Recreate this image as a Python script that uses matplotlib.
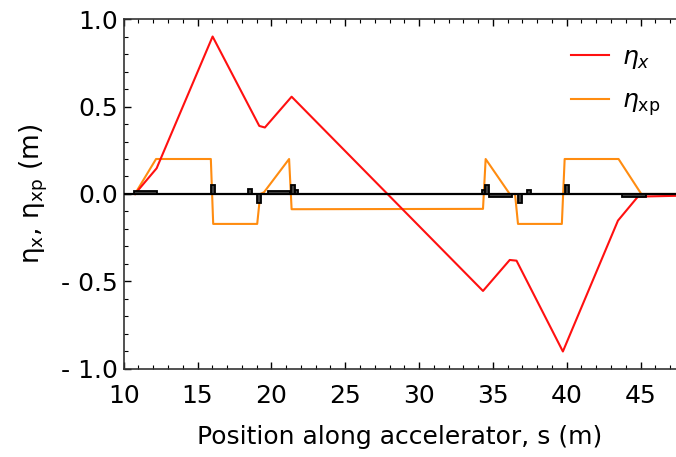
import matplotlib
matplotlib.use("Agg")
import matplotlib.pyplot as plt
from matplotlib.patches import Rectangle
from matplotlib.ticker import MultipleLocator, FixedLocator, FixedFormatter

# dispersion along the line
s_x = [10.76, 12.23, 16.02, 19.18, 19.56, 21.37, 34.33, 36.14, 36.6, 39.74, 43.47, 44.82, 47.6]
eta_x = [0.0, 0.147, 0.90, 0.389, 0.38, 0.556, -0.554, -0.377, -0.381, -0.90, -0.152, -0.015, -0.01]

s_xp = [10.76, 12.19, 15.9, 16.06, 19.04, 19.25, 19.5, 21.2, 21.37, 34.33, 34.51, 36.14, 36.5,
        36.7, 39.67, 39.86, 43.51, 45.05, 47.6]
eta_xp = [0.0, 0.2, 0.2, -0.171, -0.171, 0.0, 0.01, 0.2, -0.087, -0.085, 0.2, 0.0, 0.0,
          -0.171, -0.171, 0.2, 0.2, 0.0, 0.0]

# lattice elements: start, end, height
elem_start = [10.7, 15.9, 18.4, 19.04, 19.74, 21.34, 21.57, 34.24, 34.45, 34.72, 36.73, 37.33, 39.88, 43.76]
elem_end = [12.23, 16.2, 18.7, 19.3, 21.25, 21.57, 21.77, 34.45, 34.72, 36.3, 37.0, 37.6, 40.15, 45.34]
elem_h = [0.018, 0.05, 0.027, -0.053, 0.017, 0.05, 0.023, 0.023, 0.05, -0.02, -0.053, 0.023, 0.05, -0.02]

fig = plt.figure(figsize=(6.76, 4.57), dpi=100)
ax = fig.add_axes([0.183, 0.1926, 0.817, 0.7658])

ax.plot(s_x, eta_x, color="#ff1010", lw=1.5, label=r"$\eta_x$", zorder=3)
ax.plot(s_xp, eta_xp, color="#ff8c10", lw=1.5, label=r"$\eta_{\rm xp}$", zorder=2)
ax.axhline(0, color="black", lw=1.6, zorder=4)

for a, b, h in zip(elem_start, elem_end, elem_h):
    ax.add_patch(Rectangle((a, 0), b - a, h, facecolor="#404040", edgecolor="black",
                           lw=1.3, zorder=5))

ax.set_xlim(10, 47.4)
ax.set_ylim(-1, 1)
ax.xaxis.set_major_locator(MultipleLocator(5))
ax.xaxis.set_minor_locator(MultipleLocator(1))
yt = [-1.0, -0.5, 0.0, 0.5, 1.0]
ax.yaxis.set_major_locator(FixedLocator(yt))
ax.yaxis.set_major_formatter(FixedFormatter(["- 1.0", "- 0.5", "0.0", "0.5", "1.0"]))
ax.yaxis.set_minor_locator(MultipleLocator(0.1))

ax.tick_params(which="both", direction="in", top=True, right=False, labelsize=18)
ax.tick_params(which="major", length=5, width=1)
ax.tick_params(which="minor", length=3, width=0.8)
ax.tick_params(axis="y", pad=4)
ax.tick_params(axis="x", pad=11)
ax.spines["right"].set_visible(False)
for sp in ["left", "top", "bottom"]:
    ax.spines[sp].set_linewidth(1.2)
    ax.spines[sp].set_color("#333333")

ax.set_xlabel("Position along accelerator, s (m)", fontsize=18, labelpad=12)
ax.set_ylabel(r"η$_\mathregular{x}$, η$_\mathregular{xp}$ (m)", fontsize=19, labelpad=8)

ax.legend(loc="upper right", frameon=False, fontsize=18, handlelength=1.55,
          handletextpad=0.5, bbox_to_anchor=(1.012, 0.99), labelspacing=0.7)

fig.savefig("out.png", dpi=100)
